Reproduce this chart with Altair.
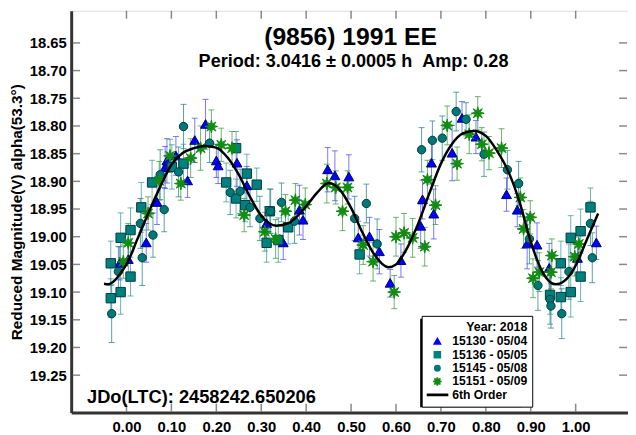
import math
import altair as alt
import pandas as pd

# ---------------- data ----------------
labels = ["15130 - 05/04", "15136 - 05/05", "15145 - 05/08", "15151 - 05/09", "6th Order"]

phase_a = [-0.015, 0.004, 0.044, 0.068, 0.086, 0.090, 0.110, 0.136, 0.152, 0.176,
           0.200, 0.204, 0.246, 0.268, 0.312, 0.349, 0.385, 0.393, 0.448, 0.464,
           0.495, 0.516, 0.541, 0.563, 0.587, 0.611, 0.655, 0.659, 0.679, 0.684,
           0.725, 0.747, 0.778, 0.846, 0.870, 0.892, 0.914, 0.941, 1.004, 1.046]
mag_a = [19.048, 19.041, 19.011, 18.938, 18.875, 18.863, 18.854, 18.899, 18.826, 18.797,
         18.863, 18.872, 18.867, 18.908, 18.976, 19.011, 18.952, 18.970, 18.879, 18.890,
         18.892, 19.002, 19.000, 19.027, 19.084, 19.043, 18.981, 18.933, 18.867, 18.959,
         18.849, 18.786, 18.820, 18.924, 18.952, 19.013, 19.015, 19.057, 19.039, 19.011]
err_a = [0.030, 0.028, 0.035, 0.040, 0.038, 0.040, 0.035, 0.030, 0.040, 0.045,
         0.030, 0.032, 0.042, 0.035, 0.030, 0.030, 0.045, 0.035, 0.040, 0.045,
         0.040, 0.030, 0.035, 0.040, 0.025, 0.030, 0.040, 0.035, 0.038, 0.045,
         0.050, 0.030, 0.030, 0.030, 0.030, 0.045, 0.040, 0.045, 0.030, 0.030]

phase_b = [-0.035, -0.035, -0.013, -0.013, 0.009, 0.009, 0.033, 0.057, 0.101, 0.127,
           0.222, 0.244, 0.244, 0.264, 0.268, 0.290, 0.312, 0.319, 0.338, 0.360,
           0.519, 0.943, 0.967, 0.967, 0.989, 0.989, 1.011, 1.011, 1.033]
mag_b = [19.048, 19.111, 19.100, 19.002, 18.988, 19.072, 18.947, 18.902, 18.874, 18.868,
         18.902, 18.840, 18.931, 18.943, 18.886, 18.906, 19.011, 18.954, 19.006, 18.983,
         19.032, 19.105, 19.048, 19.109, 19.002, 19.100, 18.990, 19.072, 18.947]
err_b = [0.040, 0.035, 0.040, 0.045, 0.040, 0.035, 0.045, 0.040, 0.040, 0.035,
         0.035, 0.030, 0.035, 0.030, 0.035, 0.030, 0.035, 0.040, 0.040, 0.030,
         0.035, 0.035, 0.040, 0.035, 0.040, 0.045, 0.040, 0.045, 0.035]

phase_c = [-0.033, -0.018, 0.035, 0.031, 0.059, 0.075, 0.084, 0.116, 0.127, 0.185,
           0.231, 0.253, 0.275, 0.297, 0.321, 0.345, 0.374, 0.508, 0.534, 0.558,
           0.657, 0.681, 0.703, 0.734, 0.756, 0.796, 0.848, 0.873, 0.897, 0.916,
           0.943, 0.945, 0.969, 0.985, 1.033, 1.037]
mag_c = [19.139, 19.063, 19.038, 18.976, 18.997, 18.888, 18.951, 18.883, 18.801, 18.831,
         18.920, 18.918, 18.947, 18.967, 18.954, 18.938, 18.972, 18.967, 18.940, 19.013,
         18.843, 18.826, 18.822, 18.774, 18.788, 18.851, 18.879, 18.904, 19.004, 19.088,
         19.113, 19.125, 19.139, 19.063, 18.976, 19.038]
err_c = [0.052, 0.045, 0.050, 0.045, 0.040, 0.045, 0.040, 0.045, 0.040, 0.035,
         0.040, 0.040, 0.035, 0.040, 0.040, 0.035, 0.040, 0.040, 0.035, 0.045,
         0.040, 0.035, 0.040, 0.035, 0.030, 0.040, 0.035, 0.040, 0.045, 0.045,
         0.045, 0.040, 0.045, 0.050, 0.040, 0.045]

phase_d = [-0.007, 0.004, 0.048, 0.073, 0.097, 0.121, 0.143, 0.165, 0.189, 0.211,
           0.235, 0.262, 0.308, 0.332, 0.354, 0.376, 0.398, 0.446, 0.466, 0.481,
           0.492, 0.527, 0.549, 0.596, 0.600, 0.618, 0.637, 0.664, 0.670, 0.688,
           0.714, 0.736, 0.763, 0.782, 0.791, 0.807, 0.835, 0.877, 0.884, 0.899,
           0.905, 0.919, 0.945, 0.947, 0.998, 1.007]
mag_d = [19.045, 19.011, 18.958, 18.899, 18.854, 18.904, 18.858, 18.840, 18.801, 18.834,
         18.840, 18.961, 18.991, 19.004, 18.954, 18.934, 18.942, 18.904, 18.911, 18.954,
         18.911, 19.015, 19.045, 19.100, 19.000, 18.993, 19.002, 19.018, 18.897, 18.943,
         18.799, 18.868, 18.815, 18.777, 18.833, 18.849, 18.840, 18.929, 18.986, 18.965,
         19.075, 19.064, 19.064, 19.034, 19.036, 19.013]
err_d = [0.030, 0.035, 0.030, 0.035, 0.030, 0.030, 0.035, 0.040, 0.030, 0.030,
         0.030, 0.030, 0.035, 0.035, 0.030, 0.030, 0.030, 0.035, 0.030, 0.035,
         0.030, 0.035, 0.035, 0.030, 0.035, 0.035, 0.035, 0.035, 0.035, 0.035,
         0.035, 0.030, 0.035, 0.030, 0.030, 0.030, 0.035, 0.035, 0.035, 0.030,
         0.035, 0.035, 0.030, 0.030, 0.035, 0.030]

curve_phase = [-0.05, -0.04, -0.025, -0.01, 0.0, 0.025, 0.05, 0.075, 0.10, 0.125,
               0.15, 0.175, 0.20, 0.225, 0.25, 0.275, 0.30, 0.334, 0.36, 0.40,
               0.425, 0.45, 0.475, 0.50, 0.525, 0.55, 0.583, 0.60, 0.625, 0.65,
               0.675, 0.70, 0.725, 0.75, 0.774, 0.80, 0.825, 0.85, 0.875, 0.90,
               0.925, 0.955, 0.98, 1.00, 1.025, 1.05]
curve_mag = [19.085, 19.086, 19.078, 19.062, 19.050, 19.003, 18.955, 18.910, 18.870, 18.849,
             18.840, 18.836, 18.839, 18.857, 18.888, 18.928, 18.962, 18.980, 18.976, 18.945,
             18.920, 18.903, 18.915, 18.948, 18.992, 19.030, 19.055, 19.050, 19.020, 18.975,
             18.920, 18.868, 18.832, 18.813, 18.809, 18.818, 18.845, 18.882, 18.937, 19.009,
             19.062, 19.086, 19.076, 19.052, 19.005, 18.958]

x_ticks = [0.0, 0.1, 0.2, 0.3, 0.4, 0.5, 0.6, 0.7, 0.8, 0.9, 1.0]
y_ticks = [18.65, 18.70, 18.75, 18.80, 18.85, 18.90, 18.95, 19.00, 19.05, 19.10, 19.15, 19.20, 19.25]

title_text = "(9856) 1991 EE"
subtitle_text = "Period: 3.0416 \u00b1 0.0005 h\u00a0\u00a0Amp: 0.28"
jd_text = "JDo(LTC): 2458242.650206"
y_title = "Reduced Magnitude(V) alpha(53.3\u00b0)"
legend_title = "Year: 2018"

# ---------------- styles ----------------
fill_colors = ["#0000ff", "#008080", "#007878", "#118c11", "#000000"]
edge_colors = {labels[0]: "#00006a", labels[1]: "#003c3c", labels[2]: "#003c3c", labels[3]: "#118c11"}
err_colors = {labels[0]: "#4a4aff", labels[1]: "#3a9a9a", labels[2]: "#1f8484", labels[3]: "#3a9a3a"}

# ---------------- tables ----------------
rows = []
for lab, ph, mg, er in [(labels[0], phase_a, mag_a, err_a), (labels[1], phase_b, mag_b, err_b),
                        (labels[2], phase_c, mag_c, err_c), (labels[3], phase_d, mag_d, err_d)]:
    for p, m, e in zip(ph, mg, er):
        rows.append({"series": lab, "phase": p, "mag": m, "lo": m - e, "hi": m + e,
                     "ecol": err_colors[lab], "ocol": edge_colors[lab]})
pts = pd.DataFrame(rows)
curve = pd.DataFrame({"series": labels[4], "phase": curve_phase, "mag": curve_mag})

# marker shapes as unit paths (style); relative extents give the marker sizes
tri_path = "M0,-0.95 L1,0.8 L-1,0.8 Z"
sq_path = "M-0.95,-0.95 L0.95,-0.95 L0.95,0.95 L-0.95,0.95 Z"
circ_path = "M0.85,0 A0.85,0.85 0 1,1 -0.85,0 A0.85,0.85 0 1,1 0.85,0 Z"
star = []
for k in range(16):
    r = 1.3 if k % 2 == 0 else 0.52
    a = k * math.pi / 8
    star.append(f"{r * math.cos(a):.3f},{r * math.sin(a):.3f}")
star_path = "M" + " L".join(star) + " Z"
bar_path = "M-3.2,-0.2 L3.2,-0.2 L3.2,0.2 L-3.2,0.2 Z"

FONT = "Liberation Sans"
xs = alt.Scale(domain=[-0.1231, 1.1165], nice=False, zero=False)
ys = alt.Scale(domain=[18.592, 19.3176], reverse=True, nice=False, zero=False)

xaxis = alt.Axis(values=x_ticks, format=".2f", title=None, labelFontSize=15, labelFontWeight="bold",
                 labelColor="black", labelPadding=7, ticks=False, grid=False, domainWidth=3,
                 domainColor="#333333", labelFont=FONT)
yaxis = alt.Axis(values=y_ticks, format=".2f", title=y_title, labelFontSize=15, labelFontWeight="bold",
                 labelColor="black", labelPadding=5, ticks=False, grid=False, domainWidth=3,
                 domainColor="#333333", titleFontSize=15.5, titleFontWeight="bold", titleColor="black",
                 titlePadding=5, labelFont=FONT, titleFont=FONT)

legend = alt.Legend(title=legend_title, orient="none", legendX=355, legendY=309,
                    fillColor="white", strokeColor="black", padding=5, titleAnchor="end",
                    titleFontSize=12.5, titleFontWeight="bold", titleFont=FONT, titleColor="black",
                    labelFont=FONT, labelFontSize=12.3, labelFontWeight="bold", labelColor="black",
                    symbolSize=42, clipHeight=12, rowPadding=0.5, titlePadding=2.5,
                    symbolOffset=4.75, labelOffset=9)

color_scale = alt.Scale(domain=labels, range=fill_colors)
shape_scale = alt.Scale(domain=labels, range=[tri_path, sq_path, circ_path, star_path, bar_path])

X = alt.X("phase:Q", scale=xs, axis=xaxis)

err_rule = alt.Chart(pts).mark_rule(strokeWidth=1, opacity=0.75).encode(
    x=X, y=alt.Y("lo:Q", scale=ys, axis=yaxis), y2="hi:Q",
    stroke=alt.Stroke("ecol:N", scale=None),
)
cap_lo = alt.Chart(pts).mark_point(shape="stroke", size=36, strokeWidth=1, opacity=0.75).encode(
    x=X, y=alt.Y("lo:Q", scale=ys, axis=yaxis), stroke=alt.Stroke("ecol:N", scale=None),
)
cap_hi = alt.Chart(pts).mark_point(shape="stroke", size=36, strokeWidth=1, opacity=0.75).encode(
    x=X, y=alt.Y("hi:Q", scale=ys, axis=yaxis), stroke=alt.Stroke("ecol:N", scale=None),
)

points = alt.Chart(pts).mark_point(filled=True, opacity=1, strokeWidth=1, size=100).encode(
    x=X,
    y=alt.Y("mag:Q", scale=ys, axis=yaxis),
    color=alt.Color("series:N", scale=color_scale, legend=legend),
    shape=alt.Shape("series:N", scale=shape_scale, legend=legend),
    stroke=alt.Stroke("ocol:N", scale=None),
)

line = alt.Chart(curve).mark_line(interpolate="monotone", strokeWidth=2.5).encode(
    x=X,
    y=alt.Y("mag:Q", scale=ys, axis=yaxis),
    color=alt.Color("series:N", scale=color_scale, legend=legend),
)

ytk = pd.DataFrame({"v": y_ticks})
xtk = pd.DataFrame({"v": x_ticks})
tick_style = dict(size=8, thickness=1.5, color="#555555")
left_t = alt.Chart(ytk).mark_tick(**tick_style).encode(y=alt.Y("v:Q", scale=ys, axis=yaxis), x=alt.value(5))
right_t = alt.Chart(ytk).mark_tick(**tick_style).encode(y=alt.Y("v:Q", scale=ys, axis=yaxis), x=alt.value(559))
top_t = alt.Chart(xtk).mark_tick(**tick_style).encode(x=alt.X("v:Q", scale=xs, axis=xaxis), y=alt.value(4))
bot_t = alt.Chart(xtk).mark_tick(**tick_style).encode(x=alt.X("v:Q", scale=xs, axis=xaxis), y=alt.value(402))

# drop shadow behind the legend box
shadow = alt.Chart(pd.DataFrame({"t": [legend_title]})).mark_rect(color="black").encode(
    x=alt.value(353.5), x2=alt.value(456), y=alt.value(312), y2=alt.value(401.5))

txt = pd.DataFrame({"t": [title_text], "s": [subtitle_text], "j": [jd_text]})
title_m = alt.Chart(txt).mark_text(font=FONT, fontSize=25, fontWeight="bold", color="black",
                                   align="center", baseline="alphabetic").encode(
    text="t:N", x=alt.value(283), y=alt.value(35))
sub_m = alt.Chart(txt).mark_text(font=FONT, fontSize=18.3, fontWeight="bold", color="black",
                                 align="center", baseline="alphabetic").encode(
    text="s:N", x=alt.value(286), y=alt.value(57))
jd_m = alt.Chart(txt).mark_text(font=FONT, fontSize=18.5, fontWeight="bold", color="black",
                                align="left", baseline="alphabetic").encode(
    text="j:N", x=alt.value(16), y=alt.value(397))

chart = alt.layer(left_t, right_t, top_t, bot_t, err_rule, cap_lo, cap_hi, points, line,
                  title_m, sub_m, jd_m, shadow).properties(
    width=564, height=407,
    padding={"left": 64, "top": 0, "right": 0, "bottom": 30},
    autosize=alt.AutoSizeParams(type="none"),
).configure_view(stroke="#222222", strokeWidth=1.5).configure(font=FONT)

chart.save("out.html", embed_options={"renderer": "svg", "actions": False})
